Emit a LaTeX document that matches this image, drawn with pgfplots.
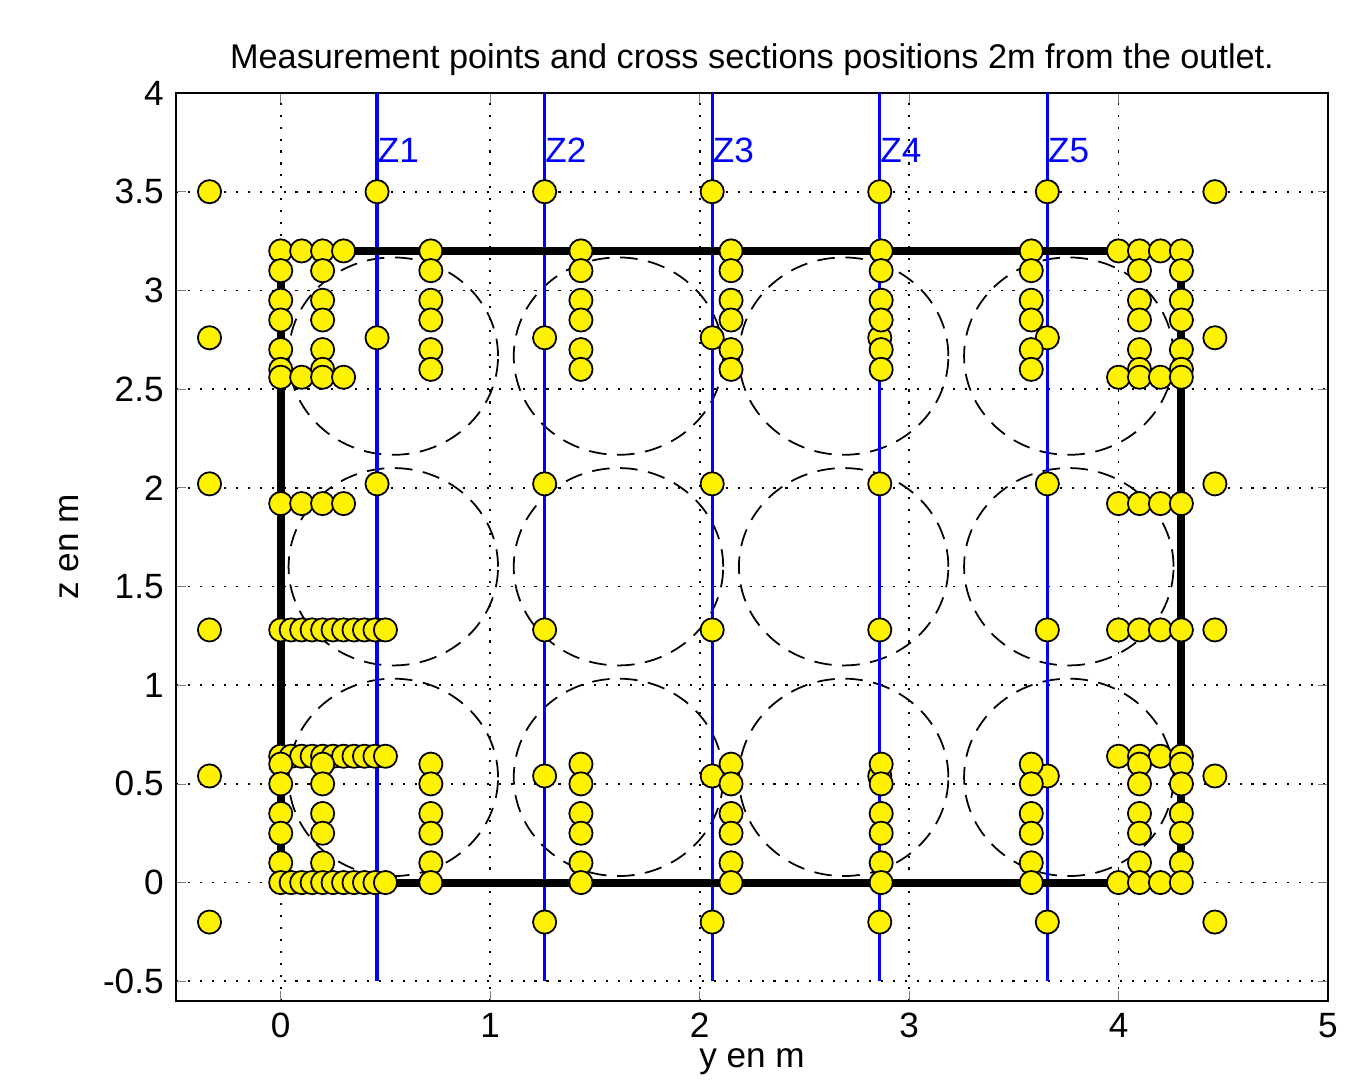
\documentclass[border=0pt]{standalone}
\usepackage{fontspec}
\setmainfont{Liberation Sans}
\usepackage{pgfplots}
\pgfplotsset{compat=1.18}
\begin{document}
\begin{tikzpicture}
\begin{axis}[
  scale only axis, width=11.52cm, height=9.08cm,
  xmin=-0.5, xmax=5, ymin=-0.6, ymax=4,
  xtick={0,1,2,3,4,5},
  ytick={-0.5,0,0.5,1,1.5,2,2.5,3,3.5,4},
  /pgf/number format/assume math mode=true,
  tick align=inside, major tick length=2.8pt,
  grid=major,
  major grid style={black, line width=0.5pt, dash pattern=on 0.6pt off 2.8pt},
  axis line style={line width=0.6pt},
  title={Measurement points and cross sections positions 2m from the outlet.},
  title style={yshift=-4.7pt, font=\fontsize{9.75}{12}\selectfont},
  xlabel={y en m}, ylabel={z en m},
  xlabel style={yshift=4pt},
  pts/.style={only marks, mark=*, mark size=3.3pt,
    mark options={fill=yellow, draw=black, line width=0.5pt}},
]
% dashed circles (4 x 3)
\draw[black, line width=0.5pt, dash pattern=on 5pt off 3pt] (axis cs:0.5375,2.667) ellipse [x radius=0.5, y radius=0.5];
\draw[black, line width=0.5pt, dash pattern=on 5pt off 3pt] (axis cs:1.6125,2.667) ellipse [x radius=0.5, y radius=0.5];
\draw[black, line width=0.5pt, dash pattern=on 5pt off 3pt] (axis cs:2.6875,2.667) ellipse [x radius=0.5, y radius=0.5];
\draw[black, line width=0.5pt, dash pattern=on 5pt off 3pt] (axis cs:3.7625,2.667) ellipse [x radius=0.5, y radius=0.5];
\draw[black, line width=0.5pt, dash pattern=on 5pt off 3pt] (axis cs:0.5375,1.6) ellipse [x radius=0.5, y radius=0.5];
\draw[black, line width=0.5pt, dash pattern=on 5pt off 3pt] (axis cs:1.6125,1.6) ellipse [x radius=0.5, y radius=0.5];
\draw[black, line width=0.5pt, dash pattern=on 5pt off 3pt] (axis cs:2.6875,1.6) ellipse [x radius=0.5, y radius=0.5];
\draw[black, line width=0.5pt, dash pattern=on 5pt off 3pt] (axis cs:3.7625,1.6) ellipse [x radius=0.5, y radius=0.5];
\draw[black, line width=0.5pt, dash pattern=on 5pt off 3pt] (axis cs:0.5375,0.533) ellipse [x radius=0.5, y radius=0.5];
\draw[black, line width=0.5pt, dash pattern=on 5pt off 3pt] (axis cs:1.6125,0.533) ellipse [x radius=0.5, y radius=0.5];
\draw[black, line width=0.5pt, dash pattern=on 5pt off 3pt] (axis cs:2.6875,0.533) ellipse [x radius=0.5, y radius=0.5];
\draw[black, line width=0.5pt, dash pattern=on 5pt off 3pt] (axis cs:3.7625,0.533) ellipse [x radius=0.5, y radius=0.5];

% cross sections Z1..Z5
\addplot[blue, line width=0.9pt] coordinates {(0.46,-0.5)(0.46,4)};
\addplot[blue, line width=0.9pt] coordinates {(1.26,-0.5)(1.26,4)};
\addplot[blue, line width=0.9pt] coordinates {(2.06,-0.5)(2.06,4)};
\addplot[blue, line width=0.9pt] coordinates {(2.86,-0.5)(2.86,4)};
\addplot[blue, line width=0.9pt] coordinates {(3.66,-0.5)(3.66,4)};
\node[blue, anchor=west, inner sep=0pt] at (axis cs:0.46,3.71) {Z1};
\node[blue, anchor=west, inner sep=0pt] at (axis cs:1.26,3.71) {Z2};
\node[blue, anchor=west, inner sep=0pt] at (axis cs:2.06,3.71) {Z3};
\node[blue, anchor=west, inner sep=0pt] at (axis cs:2.86,3.71) {Z4};
\node[blue, anchor=west, inner sep=0pt] at (axis cs:3.66,3.71) {Z5};

% outlet contour
\addplot[black, line width=2.3pt] coordinates {(0,0)(4.3,0)(4.3,3.2)(0,3.2)(0,0)};

% points on the cross section grid
\addplot[pts] coordinates {
 (-0.34,-0.2)(-0.34,0.54)(-0.34,1.28)(-0.34,2.02)(-0.34,2.76)(-0.34,3.5)
 (0.46,1.28)(0.46,2.02)(0.46,2.76)(0.46,3.5)
 (1.26,-0.2)(1.26,0.54)(1.26,1.28)(1.26,2.02)(1.26,2.76)(1.26,3.5)
 (2.06,-0.2)(2.06,0.54)(2.06,1.28)(2.06,2.02)(2.06,2.76)(2.06,3.5)
 (2.86,-0.2)(2.86,0.54)(2.86,1.28)(2.86,2.02)(2.86,2.76)(2.86,3.5)
 (3.66,-0.2)(3.66,0.54)(3.66,1.28)(3.66,2.02)(3.66,2.76)(3.66,3.5)
 (4.46,-0.2)(4.46,0.54)(4.46,1.28)(4.46,2.02)(4.46,2.76)(4.46,3.5)
};
% traverse columns
\addplot[pts] coordinates {
 (0.7167,3.2)(0.7167,3.1)(0.7167,2.95)(0.7167,2.85)(0.7167,2.7)(0.7167,2.6)
 (0.7167,0.6)(0.7167,0.5)(0.7167,0.35)(0.7167,0.25)(0.7167,0.1)(0.7167,0)
 (1.4333,3.2)(1.4333,3.1)(1.4333,2.95)(1.4333,2.85)(1.4333,2.7)(1.4333,2.6)
 (1.4333,0.6)(1.4333,0.5)(1.4333,0.35)(1.4333,0.25)(1.4333,0.1)(1.4333,0)
 (2.15,3.2)(2.15,3.1)(2.15,2.95)(2.15,2.85)(2.15,2.7)(2.15,2.6)
 (2.15,0.6)(2.15,0.5)(2.15,0.35)(2.15,0.25)(2.15,0.1)(2.15,0)
 (2.8667,3.2)(2.8667,3.1)(2.8667,2.95)(2.8667,2.85)(2.8667,2.7)(2.8667,2.6)
 (2.8667,0.6)(2.8667,0.5)(2.8667,0.35)(2.8667,0.25)(2.8667,0.1)(2.8667,0)
 (3.5833,3.2)(3.5833,3.1)(3.5833,2.95)(3.5833,2.85)(3.5833,2.7)(3.5833,2.6)
 (3.5833,0.6)(3.5833,0.5)(3.5833,0.35)(3.5833,0.25)(3.5833,0.1)(3.5833,0)
};
% left wall
\addplot[pts] coordinates {
 (0,3.2)(0.1,3.2)(0.2,3.2)(0.3,3.2)
 (0,3.1)(0,2.95)(0,2.85)(0,2.7)(0,2.6)
 (0.2,3.1)(0.2,2.95)(0.2,2.85)(0.2,2.7)(0.2,2.6)
 (0,2.56)(0.1,2.56)(0.2,2.56)(0.3,2.56)
 (0,1.92)(0.1,1.92)(0.2,1.92)(0.3,1.92)
 (0,1.28)(0.05,1.28)(0.1,1.28)(0.15,1.28)(0.2,1.28)(0.25,1.28)
 (0.3,1.28)(0.35,1.28)(0.4,1.28)(0.45,1.28)(0.5,1.28)
 (0,0.64)(0.05,0.64)(0.1,0.64)(0.15,0.64)(0.2,0.64)(0.25,0.64)
 (0.3,0.64)(0.35,0.64)(0.4,0.64)(0.45,0.64)(0.5,0.64)
 (0,0.6)(0,0.5)(0,0.35)(0,0.25)(0,0.1)
 (0.2,0.6)(0.2,0.5)(0.2,0.35)(0.2,0.25)(0.2,0.1)
 (0,0)(0.05,0)(0.1,0)(0.15,0)(0.2,0)(0.25,0)
 (0.3,0)(0.35,0)(0.4,0)(0.45,0)(0.5,0)
};
% right wall
\addplot[pts] coordinates {
 (4.0,3.2)(4.1,3.2)(4.2,3.2)(4.3,3.2)
 (4.1,3.1)(4.1,2.95)(4.1,2.85)(4.1,2.7)(4.1,2.6)
 (4.3,3.1)(4.3,2.95)(4.3,2.85)(4.3,2.7)(4.3,2.6)
 (4.0,2.56)(4.1,2.56)(4.2,2.56)(4.3,2.56)
 (4.0,1.92)(4.1,1.92)(4.2,1.92)(4.3,1.92)
 (4.0,1.28)(4.1,1.28)(4.2,1.28)(4.3,1.28)
 (4.0,0.64)(4.1,0.64)(4.2,0.64)(4.3,0.64)
 (4.1,0.6)(4.1,0.5)(4.1,0.35)(4.1,0.25)(4.1,0.1)
 (4.3,0.6)(4.3,0.5)(4.3,0.35)(4.3,0.25)(4.3,0.1)
 (4.0,0)(4.1,0)(4.2,0)(4.3,0)
};
\end{axis}
\pgfresetboundingbox
\path ([shift={(-1.76cm,-0.81cm)}]current axis.south west)
  rectangle ([shift={(0.44cm,0.93cm)}]current axis.north east);
\end{tikzpicture}
\end{document}
